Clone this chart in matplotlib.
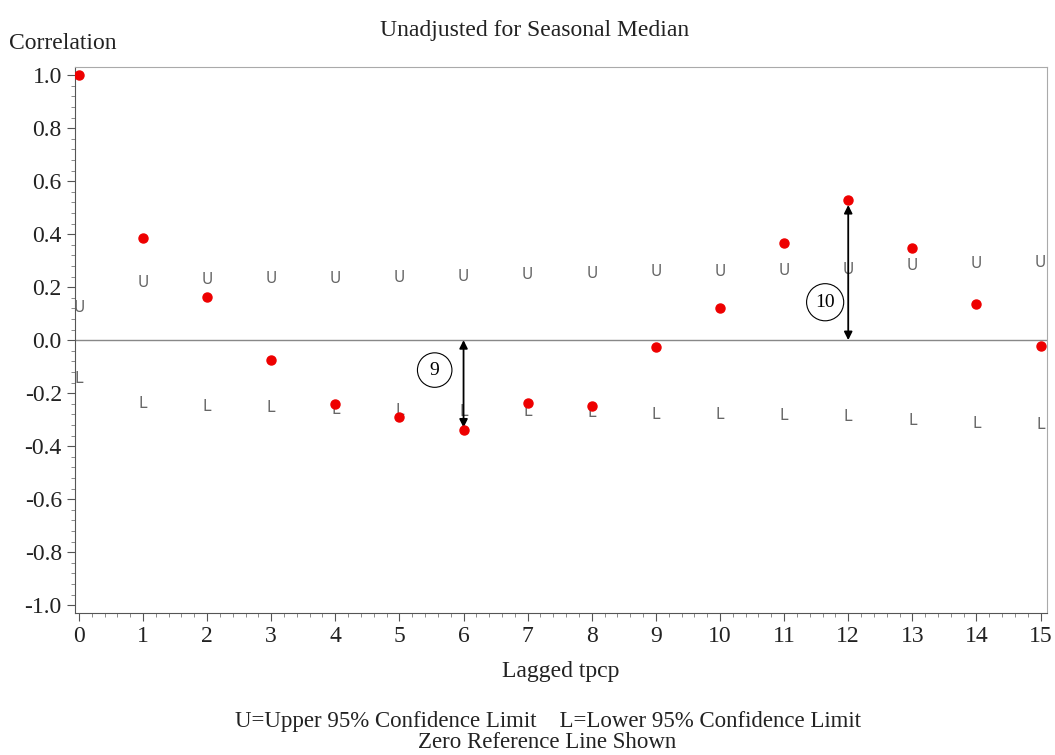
import matplotlib.pyplot as plt
from matplotlib.ticker import MultipleLocator

plt.rcParams['font.family'] = ['Liberation Serif', 'DejaVu Serif']

# Lags and autocorrelations
lags = list(range(16))
acf = [1.0, 0.385, 0.162, -0.075, -0.242, -0.29, -0.34, -0.238,
       -0.249, -0.026, 0.121, 0.366, 0.528, 0.347, 0.136, -0.023]

# 95% confidence limits
upper = [0.125, 0.219, 0.23, 0.234, 0.234, 0.238, 0.24, 0.249,
         0.253, 0.26, 0.26, 0.264, 0.268, 0.283, 0.29, 0.294]
lower = [-0.143, -0.24, -0.25, -0.255, -0.26, -0.264, -0.268, -0.27,
         -0.275, -0.28, -0.281, -0.283, -0.287, -0.305, -0.313, -0.317]

# Annotated lags: (lag, arrow end, label, label x, label y)
notes = [(6, -0.33, '9', 5.55, -0.113),
         (12, 0.51, '10', 11.64, 0.143)]

yticks = [-1.0, -0.8, -0.6, -0.4, -0.2, 0.0, 0.2, 0.4, 0.6, 0.8, 1.0]

fig = plt.figure(figsize=(10.55, 7.55), dpi=100)
ax = fig.add_axes([0.0711, 0.188, 0.9213, 0.723])

ax.axhline(0, color='#888888', lw=1)

limit_font = ['Liberation Sans Narrow', 'DejaVu Sans']
for x, u, l in zip(lags, upper, lower):
    ax.text(x, u, 'U', ha='center', va='center', fontsize=11, color='#666666', family=limit_font)
    ax.text(x, l, 'L', ha='center', va='center', fontsize=11, color='#666666', family=limit_font)

ax.plot(lags, acf, 'o', color='#ee0000', markersize=6.5, zorder=5)

for lag, end, label, lx, ly in notes:
    ax.annotate('', xy=(lag, end), xytext=(lag, 0),
                arrowprops=dict(arrowstyle='<|-|>', color='black', lw=1.3, mutation_scale=12,
                                shrinkA=0, shrinkB=0))
    ax.text(lx, ly, label, ha='center', va='center', fontsize=14,
            bbox=dict(boxstyle='circle,pad=0.45', fc='white', ec='black', lw=0.8))

ax.set_xlim(-0.06, 15.1)
ax.set_ylim(-1.03, 1.03)
ax.xaxis.set_major_locator(MultipleLocator(1))
ax.xaxis.set_minor_locator(MultipleLocator(0.2))
ax.yaxis.set_minor_locator(MultipleLocator(0.04))
ax.set_yticks(yticks)
ax.set_yticklabels(['%.1f' % v for v in yticks])
ax.tick_params(axis='both', which='major', labelsize=17, length=6, color='#555555',
               labelcolor='#222222', direction='out')
ax.tick_params(axis='both', which='minor', length=3, color='#777777', direction='out')

for side in ['left', 'bottom']:
    ax.spines[side].set_color('#555555')
for side in ['top', 'right']:
    ax.spines[side].set_color('#aaaaaa')

ax.set_xlabel('Lagged tpcp', fontsize=17, labelpad=10, color='#222222')
fig.text(0.507, 0.96, 'Unadjusted for Seasonal Median', ha='center', va='center',
         fontsize=17, color='#222222')
fig.text(0.009, 0.942, 'Correlation', ha='left', va='center', fontsize=17, color='#222222')
fig.text(0.519, 0.044, 'U=Upper 95% Confidence Limit    L=Lower 95% Confidence Limit',
         ha='center', va='center', fontsize=16.5, color='#222222')
fig.text(0.519, 0.016, 'Zero Reference Line Shown', ha='center', va='center',
         fontsize=16.5, color='#222222')

fig.savefig('out.png', dpi=100)
